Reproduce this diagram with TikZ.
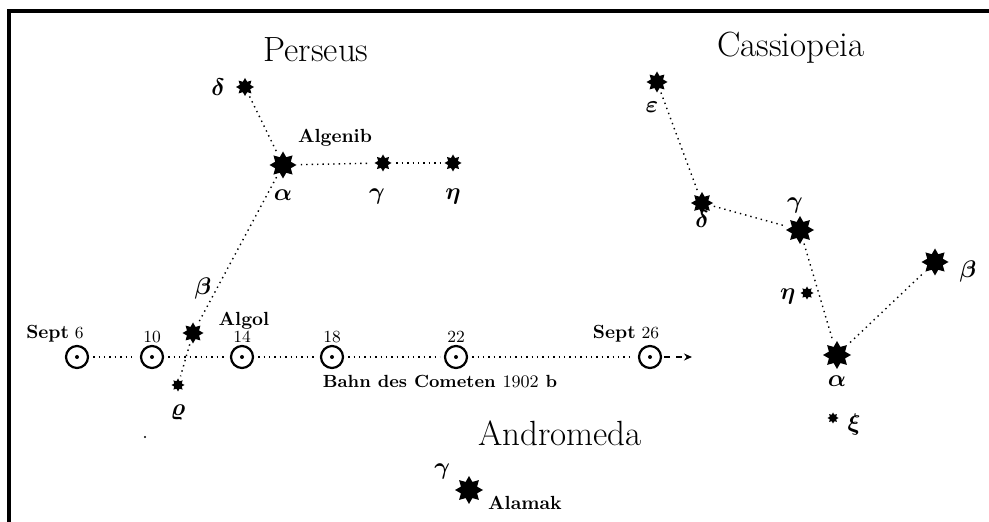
\documentclass[tikz,border=0pt]{standalone}
\usepackage{bm}
\usetikzlibrary{shapes.geometric, arrows.meta, positioning}

\begin{document}
\begin{tikzpicture}[
    x=0.5pt, y=-0.5pt,
    astro/.style={star, star points=8, star point ratio=1.6, fill=black,
                  inner sep=0pt, minimum size=#1},
    sun/.style={circle, draw, line width=1.1pt, minimum size=11pt, inner sep=0pt,
                path picture={\fill (path picture bounding box.center) circle (1pt);}},
    greek/.style={inner sep=1pt, font=\fontsize{12}{14}\selectfont},
    starname/.style={inner sep=1pt, font=\bfseries\fontsize{9.5}{11}\selectfont},
    constname/.style={font=\fontsize{17.5}{20}\selectfont},
    day/.style={inner sep=1pt, font=\fontsize{8.5}{10}\selectfont},
    link/.style={dotted, line width=0.7pt, shorten <=2pt, shorten >=2pt}
]
    \useasboundingbox (0,0) rectangle (989,522);
    \draw[line width=2pt] (9,522) -- (9,11) -- (989,11);

    \node[constname] (tper) at (316,50) {Perseus};
    \node[constname] (tcas) at (791,48) {Cassiopeia};
    \node[constname] (tand) at (560,433) {Andromeda};

    % Perseus
    \node[astro=9pt] (pd) at (245,87) {};
    \node[astro=13.5pt] (pa) at (283,165) {};
    \node[astro=8.5pt] (pg) at (383,163) {};
    \node[astro=8.5pt] (pe) at (453,163) {};
    \node[astro=10.5pt] (pb) at (193,333) {};
    \node[astro=6.5pt] (pr) at (178,385) {};
    \node[greek, left=4pt of pd] (lpd) {$\bm{\delta}$};
    \node[starname, above=1pt of pa, xshift=26pt] (lalgenib) {Algenib};
    \node[greek, below=4pt of pa] (lpa) {$\bm{\alpha}$};
    \node[greek, below=7pt of pg, xshift=-3pt] (lpg) {$\bm{\gamma}$};
    \node[greek, below=7pt of pe] (lpe) {$\bm{\eta}$};
    \node[greek, above=10pt of pb, xshift=5pt] (lpb) {$\bm{\beta}$};
    \node[starname, right=6pt of pb, yshift=6pt] (lalgol) {Algol};
    \node[greek, below=5pt of pr] (lpr) {$\bm{\varrho}$};
    \fill (145,437) circle (0.6pt);

    \draw[link] (pd) -- (pa);
    \draw[link] (pa) -- (pg);
    \draw[link] (pg) -- (pe);
    \draw[link] (pa) -- (pb);
    \draw[link] (pb) -- (pr);

    % Cassiopeia
    \node[astro=10.5pt] (ce) at (657,82) {};
    \node[astro=11pt] (cd) at (702,203) {};
    \node[astro=14pt] (cg) at (800,230) {};
    \node[astro=13.5pt] (cb) at (935,262) {};
    \node[astro=6.5pt] (cy) at (807,293) {};
    \node[astro=14pt] (ca) at (837,355) {};
    \node[astro=5.5pt] (cx) at (833,418) {};
    \node[greek, below=3pt of ce, xshift=-2.5pt] (lce) {$\bm{\varepsilon}$};
    \node[greek, below=-3pt of cd] (lcd) {$\bm{\delta}$};
    \node[greek, above=0pt of cg, xshift=-2.5pt] (lcg) {$\bm{\gamma}$};
    \node[greek, right=4pt of cb, yshift=-5pt] (lcb) {$\bm{\beta}$};
    \node[greek, left=1pt of cy, yshift=-2pt] (lcy) {$\bm{\eta}$};
    \node[greek, below=2pt of ca] (lca) {$\bm{\alpha}$};
    \node[greek, right=3pt of cx, yshift=-3.5pt] (lcx) {$\bm{\xi}$};

    \draw[link] (ce) -- (cd);
    \draw[link] (cd) -- (cg);
    \draw[link] (cg) -- (ca);
    \draw[link] (ca) -- (cb);

    % Andromeda
    \node[astro=14pt] (am) at (469,490) {};
    \node[greek, above left=-1pt and 3pt of am] (lam) {$\bm{\gamma}$};
    \node[starname, right=1pt of am, yshift=-6.5pt] (lalamak) {Alamak};

    % Bahn des Cometen
    \node[sun] (c06) at (77,357) {};
    \node[sun] (c10) at (152,357) {};
    \node[sun] (c14) at (242,357) {};
    \node[sun] (c18) at (332,357) {};
    \node[sun] (c22) at (456,357) {};
    \node[sun] (c26) at (650,357) {};
    \coordinate (tail) at (692,357);
    \node[day, above=0pt of c06, xshift=-11pt] (l06)
        {{\bfseries\fontsize{9.5}{11}\selectfont Sept}\ 6};
    \node[day, above=0pt of c26, xshift=-12pt] (l26)
        {{\bfseries\fontsize{9.5}{11}\selectfont Sept}\ 26};
    \foreach \d in {10,14,18,22}
        \node[day, above=0pt of c\d] (l\d) {\d};
    \node[starname, font=\bfseries\fontsize{8.8}{10}\selectfont] (bahn) at (440,382)
        {Bahn\ des\ Cometen\ {\mdseries 1902}\ b};

    \foreach \a/\b in {06/10,10/14,14/18,18/22,22/26}
        \draw[link] (c\a) -- (c\b);
    \draw[dashed, line width=0.8pt, -{Stealth[length=4pt,width=3.5pt]}, shorten <=1pt]
        (c26) -- (tail);
\end{tikzpicture}
\end{document}
